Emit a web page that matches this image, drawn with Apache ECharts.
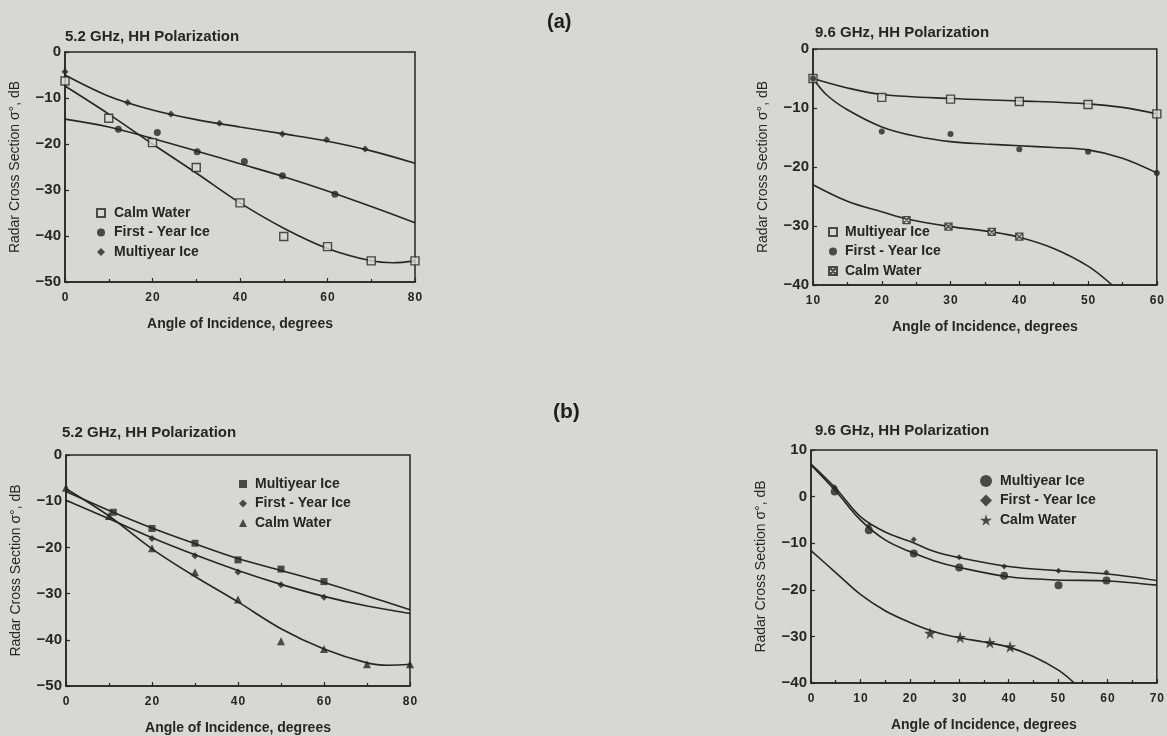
<!DOCTYPE html>
<html>
<head>
<meta charset="utf-8">
<title>Radar Cross Section vs Angle of Incidence</title>
<script src="https://cdn.jsdelivr.net/npm/echarts@6/dist/echarts.min.js"></script>
<style>
  html, body { margin: 0; padding: 0; background: #d7d7d5; }
  #chart { width: 1167px; height: 736px; }
</style>
</head>
<body>
<div id="chart"></div>
<script>
// ---- Panel (a) top-left: 5.2 GHz, HH polarization ----
const aCalmPts  = [[0,-6.3],[10,-14.4],[20,-19.7],[30,-25.1],[40,-32.8],[50,-40.1],[60,-42.3],[70,-45.4],[80,-45.4]];
const aCalmFit  = [[0,-7.4],[10,-13.5],[20,-20],[30,-26.3],[40,-32.8],[50,-38.3],[60,-42.7],[70,-45.4],[75,-45.8],[80,-45.4]];
const aFirstPts = [[12.2,-16.8],[21.1,-17.5],[30.2,-21.7],[41,-23.8],[49.7,-26.9],[61.7,-30.9]];
const aFirstFit = [[0,-14.6],[10,-16.3],[20,-18.8],[30,-21.5],[40,-24.3],[50,-27.1],[60,-30.2],[70,-33.6],[80,-37.1]];
const aMultiPts = [[0,-4.3],[14.3,-11],[24.2,-13.5],[35.3,-15.5],[49.7,-17.8],[59.8,-19.1],[68.6,-21.1]];
const aMultiFit = [[0,-5],[10,-9.6],[20,-12.6],[30,-14.7],[40,-16.3],[50,-17.8],[60,-19.4],[70,-21.5],[80,-24.2]];

// ---- Panel (a) top-right: 9.6 GHz, HH polarization ----
const bMultiPts = [[10,-5],[20,-8.2],[30,-8.5],[40,-8.9],[50,-9.4],[60,-11]];
const bMultiFit = [[10,-5],[15,-6.6],[20,-7.7],[30,-8.4],[40,-8.8],[50,-9.3],[55,-9.9],[60,-11]];
const bFirstPts = [[10,-5],[20,-14],[30,-14.4],[40,-17],[50,-17.4],[60,-21]];
const bFirstFit = [[10,-5],[12,-7.8],[15,-10.3],[20,-13.2],[25,-14.8],[30,-15.7],[35,-16.1],[40,-16.4],[45,-16.7],[50,-17.1],[55,-18.5],[60,-21]];
const bCalmPts  = [[23.6,-29],[29.7,-30.1],[36,-31],[40,-31.8]];
const bCalmFit  = [[10,-23],[15,-25.8],[20,-27.6],[24,-28.9],[30,-30.1],[36,-31],[40,-31.9],[45,-33.8],[50,-36.8],[53.5,-40]];

// ---- Panel (b) bottom-left: 5.2 GHz, HH polarization ----
const cMultiPts = [[11,-12.4],[20,-15.9],[30,-19.1],[40,-22.7],[50,-24.7],[60,-27.4]];
const cMultiFit = [[0,-7.9],[10,-12],[20,-15.8],[30,-19.2],[40,-22.4],[50,-25],[60,-27.6],[70,-30.5],[80,-33.5]];
const cFirstPts = [[20,-18.1],[30,-21.8],[40,-25.3],[50,-28.1],[60,-30.8]];
const cFirstFit = [[0,-9.8],[10,-13.8],[20,-17.9],[30,-21.6],[40,-25],[50,-28],[60,-30.6],[70,-32.7],[80,-34.3]];
const cCalmPts  = [[0,-7.1],[10,-13.2],[20,-20.2],[30,-25.4],[40,-31.3],[50,-40.3],[60,-42],[70,-45.3],[80,-45.3]];
const cCalmFit  = [[0,-7.3],[10,-13.2],[20,-20.3],[30,-26.3],[40,-31.8],[50,-37.6],[60,-42],[70,-45],[75,-45.5],[80,-45.3]];

// ---- Panel (b) bottom-right: 9.6 GHz, HH polarization ----
const dMultiPts = [[4.8,1.1],[11.7,-7.2],[20.8,-12.2],[30,-15.2],[39.1,-17],[50.1,-19],[59.8,-18]];
const dMultiFit = [[0,6.8],[5,1.2],[10,-5],[15,-9.3],[20,-11.8],[25,-13.8],[30,-15.2],[40,-17.2],[50,-17.9],[60,-18.1],[70,-19]];
const dFirstPts = [[4.8,2],[11.7,-6.3],[20.8,-9.2],[30,-13],[39.1,-15],[50.1,-15.9],[59.8,-16.3]];
const dFirstFit = [[0,7],[5,1.8],[10,-4.3],[15,-7.6],[20,-9.6],[25,-11.8],[30,-13.1],[40,-15],[50,-15.9],[60,-16.6],[70,-18]];
const dCalmPts  = [[24.1,-29.3],[30.2,-30.2],[36.2,-31.3],[40.3,-32.2]];
const dCalmFit  = [[0,-11.6],[5,-16.3],[10,-21],[15,-24.5],[20,-27],[25,-29],[30,-30.3],[35,-31.2],[40,-32.3],[45,-34.3],[50,-37.2],[53.3,-40]];

// Panel titles and shared axis texts
const panelTitles = ['5.2 GHz, HH Polarization', '9.6 GHz, HH Polarization', '5.2 GHz, HH Polarization', '9.6 GHz, HH Polarization'];
const figureLabels = ['(a)', '(b)'];
const xAxisTitle = 'Angle of Incidence, degrees';
const yAxisTitle = 'Radar Cross Section σ°, dB';
const xRanges = [[0, 80, 20], [10, 60, 10], [0, 80, 20], [0, 70, 10]];
const yRanges = [[-50, 0, 10], [-40, 0, 10], [-50, 0, 10], [-40, 10, 10]];

const FONT = '"Liberation Sans", Arial, Helvetica, sans-serif';
const INK = '#262626';
const PAPER = '#d7d7d5';

const STAR = 'path://M50,0 L61,35 L98,35 L68,57 L79,91 L50,70 L21,91 L32,57 L2,35 L39,35 Z';
const XBOX = 'path://M0,0 H10 V10 H0 Z M0,0 L10,10 M10,0 L0,10';

const grids = [
  { left: 65,  top: 52,  width: 350, height: 230 },
  { left: 813, top: 49,  width: 344, height: 236 },
  { left: 66,  top: 455, width: 344, height: 233 },
  { left: 811, top: 450, width: 349, height: 233 }
];

const minus = v => (v < 0 ? '\u2212' + Math.abs(v) : String(v));
const spaced = v => String(v).split('').join('\u200A');

const xAxes = xRanges.map((r, i) => ({
  gridIndex: i, type: 'value', min: r[0], max: r[1], interval: r[2],
  axisLine: { show: true, onZero: false, lineStyle: { color: INK, width: 1.5 } },
  axisTick: { show: true, inside: true, length: 4, lineStyle: { color: INK, width: 1.2 } },
  minorTick: { show: true, splitNumber: 2, length: 3, lineStyle: { color: INK, width: 1.2 } },
  splitLine: { show: false },
  axisLabel: { margin: 10, color: INK, fontFamily: FONT, fontSize: 12, fontWeight: 'bold', formatter: spaced },
  name: xAxisTitle, nameLocation: 'middle', nameGap: 35,
  nameTextStyle: { color: INK, fontFamily: FONT, fontSize: 14, fontWeight: 'bold' }
}));

const yAxes = yRanges.map((r, i) => ({
  gridIndex: i, type: 'value', min: r[0], max: r[1], interval: r[2],
  axisLine: { show: true, onZero: false, lineStyle: { color: INK, width: 1.5 } },
  axisTick: { show: true, inside: true, length: 4, lineStyle: { color: INK, width: 1.2 } },
  splitLine: { show: false },
  axisLabel: { margin: 4, color: INK, fontFamily: FONT, fontSize: 15, fontWeight: 'bold', formatter: minus },
  name: yAxisTitle, nameLocation: 'middle', nameRotate: 90, nameGap: 43,
  nameTextStyle: { color: INK, fontFamily: FONT, fontSize: 14 }
}));

function fit(idx, data) {
  return {
    type: 'line', xAxisIndex: idx, yAxisIndex: idx, data: data,
    smooth: 0.35, showSymbol: false, silent: true,
    lineStyle: { color: INK, width: 1.6 }, z: 2
  };
}
function pts(idx, name, data, symbol, size, hollow) {
  return {
    type: 'scatter', name: name, xAxisIndex: idx, yAxisIndex: idx, data: data,
    symbol: symbol, symbolSize: size, z: 3,
    itemStyle: hollow
      ? { color: PAPER, borderColor: INK, borderWidth: 1.4 }
      : { color: INK, borderColor: INK, borderWidth: 0 }
  };
}

const series = [
  fit(0, aCalmFit), fit(0, aFirstFit), fit(0, aMultiFit),
  pts(0, 'a|Calm Water', aCalmPts, 'rect', 8, true),
  pts(0, 'a|First - Year Ice', aFirstPts, 'circle', 7, false),
  pts(0, 'a|Multiyear Ice', aMultiPts, 'diamond', 7, false),

  fit(1, bMultiFit), fit(1, bFirstFit), fit(1, bCalmFit),
  pts(1, 'b|Multiyear Ice', bMultiPts, 'rect', 8, true),
  pts(1, 'b|First - Year Ice', bFirstPts, 'circle', 6, false),
  pts(1, 'b|Calm Water', bCalmPts, XBOX, 7, true),

  fit(2, cMultiFit), fit(2, cFirstFit), fit(2, cCalmFit),
  pts(2, 'c|Multiyear Ice', cMultiPts, 'rect', 7, false),
  pts(2, 'c|First - Year Ice', cFirstPts, 'diamond', 7, false),
  pts(2, 'c|Calm Water', cCalmPts, 'triangle', 8, false),

  fit(3, dMultiFit), fit(3, dFirstFit), fit(3, dCalmFit),
  pts(3, 'd|Multiyear Ice', dMultiPts, 'circle', 8, false),
  pts(3, 'd|First - Year Ice', dFirstPts, 'diamond', 6, false),
  pts(3, 'd|Calm Water', dCalmPts, STAR, 12, false)
];

// Square legend icons keep the marker shapes undistorted
function legend(prefix, names, left, top, icon, textPad) {
  return {
    orient: 'vertical', left: left, top: top, padding: 0,
    itemWidth: icon, itemHeight: icon, itemGap: 19.5 - 16,
    selectedMode: false,
    data: names.map(n => prefix + '|' + n),
    formatter: n => n.split('|')[1],
    textStyle: { color: INK, fontFamily: FONT, fontSize: 14, fontWeight: 'bold', lineHeight: 16,
                 padding: [0, 0, 0, textPad] }
  };
}

const option = {
  animation: false,
  backgroundColor: PAPER,
  title: [
    { text: panelTitles[0], left: 65,  top: 29 },
    { text: panelTitles[1], left: 815, top: 25 },
    { text: panelTitles[2], left: 62,  top: 425 },
    { text: panelTitles[3], left: 815, top: 423 }
  ].map(t => Object.assign(t, { padding: 0,
      textStyle: { color: INK, fontFamily: FONT, fontSize: 15, fontWeight: 'bold' } }))
   .concat([
    { text: figureLabels[0], left: 547, top: 12, padding: 0,
      textStyle: { color: '#1e1e1e', fontFamily: FONT, fontSize: 20, fontWeight: 'bold' } },
    { text: figureLabels[1], left: 553, top: 402, padding: 0,
      textStyle: { color: '#1e1e1e', fontFamily: FONT, fontSize: 21, fontWeight: 'bold' } }
  ]),
  grid: grids.map(g => Object.assign({}, g, { show: true, borderColor: INK, borderWidth: 1.5, backgroundColor: 'transparent' })),
  xAxis: xAxes,
  yAxis: yAxes,
  legend: [
    legend('a', ['Calm Water', 'First - Year Ice', 'Multiyear Ice'], 96, 205, 8, 4),
    legend('b', ['Multiyear Ice', 'First - Year Ice', 'Calm Water'], 828, 224, 8, 3),
    legend('c', ['Multiyear Ice', 'First - Year Ice', 'Calm Water'], 239, 476, 8, 3),
    legend('d', ['Multiyear Ice', 'First - Year Ice', 'Calm Water'], 980, 473, 12, 3)
  ],
  series: series
};

const chart = echarts.init(document.getElementById('chart'), null, { renderer: 'canvas' });
chart.setOption(option);
</script>
</body>
</html>
